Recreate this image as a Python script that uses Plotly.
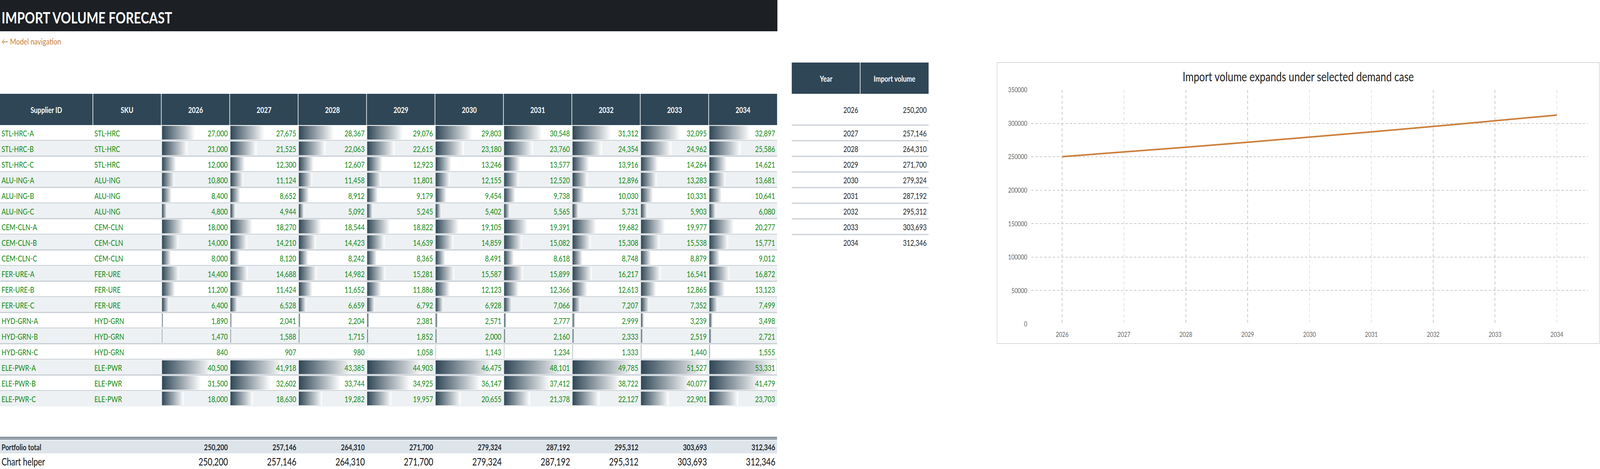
import plotly.graph_objects as go

W, H = 5238, 1200

# ---------------- data ----------------
years = ['2026', '2027', '2028', '2029', '2030', '2031', '2032', '2033', '2034']
supplier_ids = ['STL-HRC-A', 'STL-HRC-B', 'STL-HRC-C', 'ALU-ING-A', 'ALU-ING-B', 'ALU-ING-C',
                'CEM-CLN-A', 'CEM-CLN-B', 'CEM-CLN-C', 'FER-URE-A', 'FER-URE-B', 'FER-URE-C',
                'HYD-GRN-A', 'HYD-GRN-B', 'HYD-GRN-C', 'ELE-PWR-A', 'ELE-PWR-B', 'ELE-PWR-C']
skus = ['STL-HRC', 'STL-HRC', 'STL-HRC', 'ALU-ING', 'ALU-ING', 'ALU-ING',
        'CEM-CLN', 'CEM-CLN', 'CEM-CLN', 'FER-URE', 'FER-URE', 'FER-URE',
        'HYD-GRN', 'HYD-GRN', 'HYD-GRN', 'ELE-PWR', 'ELE-PWR', 'ELE-PWR']
stl_hrc_a = [27000, 27675, 28367, 29076, 29803, 30548, 31312, 32095, 32897]
stl_hrc_b = [21000, 21525, 22063, 22615, 23180, 23760, 24354, 24962, 25586]
stl_hrc_c = [12000, 12300, 12607, 12923, 13246, 13577, 13916, 14264, 14621]
alu_ing_a = [10800, 11124, 11458, 11801, 12155, 12520, 12896, 13283, 13681]
alu_ing_b = [8400, 8652, 8912, 9179, 9454, 9738, 10030, 10331, 10641]
alu_ing_c = [4800, 4944, 5092, 5245, 5402, 5565, 5731, 5903, 6080]
cem_cln_a = [18000, 18270, 18544, 18822, 19105, 19391, 19682, 19977, 20277]
cem_cln_b = [14000, 14210, 14423, 14639, 14859, 15082, 15308, 15538, 15771]
cem_cln_c = [8000, 8120, 8242, 8365, 8491, 8618, 8748, 8879, 9012]
fer_ure_a = [14400, 14688, 14982, 15281, 15587, 15899, 16217, 16541, 16872]
fer_ure_b = [11200, 11424, 11652, 11886, 12123, 12366, 12613, 12865, 13123]
fer_ure_c = [6400, 6528, 6659, 6792, 6928, 7066, 7207, 7352, 7499]
hyd_grn_a = [1890, 2041, 2204, 2381, 2571, 2777, 2999, 3239, 3498]
hyd_grn_b = [1470, 1588, 1715, 1852, 2000, 2160, 2333, 2519, 2721]
hyd_grn_c = [840, 907, 980, 1058, 1143, 1234, 1333, 1440, 1555]
ele_pwr_a = [40500, 41918, 43385, 44903, 46475, 48101, 49785, 51527, 53331]
ele_pwr_b = [31500, 32602, 33744, 34925, 36147, 37412, 38722, 40077, 41479]
ele_pwr_c = [18000, 18630, 19282, 19957, 20655, 21378, 22127, 22901, 23703]
volumes = [stl_hrc_a, stl_hrc_b, stl_hrc_c, alu_ing_a, alu_ing_b, alu_ing_c,
           cem_cln_a, cem_cln_b, cem_cln_c, fer_ure_a, fer_ure_b, fer_ure_c,
           hyd_grn_a, hyd_grn_b, hyd_grn_c, ele_pwr_a, ele_pwr_b, ele_pwr_c]
portfolio_total = [250200, 257146, 264310, 271700, 279324, 287192, 295312, 303693, 312346]
chart_helper = [250200, 257146, 264310, 271700, 279324, 287192, 295312, 303693, 312346]

title_text = 'IMPORT VOLUME FORECAST'
nav_text = '← Model navigation'
chart_title = 'Import volume expands under selected demand case'
y_ticks = [0, 50000, 100000, 150000, 200000, 250000, 300000, 350000]

# ---------------- styles / geometry ----------------
FONT = 'Lato'
DARK = '#2f4656'
GREEN = '#138a13'
SEP = '#c9cfd5'
ALT = '#edf1f3'
TOT_BG = '#dde4ea'

SUP_X = (0, 304)
SKU_X = (304, 528)
YX0, YW = 528, 224
TABLE_R = YX0 + YW * len(years)
HEAD_Y = (240, 320)
ROW_Y0, ROW_H = 320, 40
TOT_Y = (1124, 1160)
HELP_Y = (1160, 1200)

vals_flat = [v for r in volumes for v in r]
vmin, vmax = min(vals_flat), max(vals_flat)

fig = go.Figure()
shapes = []
ann = []


def rect(x0, y0, x1, y1, fill, layer='below'):
    shapes.append(dict(type='rect', xref='x', yref='y', x0=x0, y0=y0, x1=x1, y1=y1,
                       fillcolor=fill, layer=layer, line=dict(width=0)))


def hline(x0, x1, y, color, width):
    shapes.append(dict(type='line', xref='x', yref='y', x0=x0, x1=x1, y0=y, y1=y,
                       line=dict(color=color, width=width), layer='below'))


def vline(x, y0, y1, color, width):
    shapes.append(dict(type='line', xref='x', yref='y', x0=x, x1=x, y0=y0, y1=y1,
                       line=dict(color=color, width=width), layer='below'))


def text(x, y, s, size, color, anchor='left', bold=False):
    ann.append(dict(xref='x', yref='y', x=x, y=y, text=s, showarrow=False,
                    xanchor=anchor, yanchor='middle',
                    font=dict(family=FONT, size=size, color=color,
                              weight='bold' if bold else 'normal')))


# title bar + nav
rect(0, 0, TABLE_R + 1, 80, '#1c1f24')
text(3, 44, title_text, 41, '#ffffff', bold=True)
text(3, 105, nav_text, 22, '#c8813f')

# main table header
rect(0, HEAD_Y[0], TABLE_R, HEAD_Y[1], DARK)
col_edges = [SUP_X[0], SKU_X[0], YX0] + [YX0 + YW * (j + 1) for j in range(len(years))]
for x in col_edges[1:-1]:
    vline(x, HEAD_Y[0], HEAD_Y[1], '#ffffff', 2)
headers = ['Supplier ID', 'SKU'] + years
for k, h in enumerate(headers):
    text((col_edges[k] + col_edges[k + 1]) / 2, (HEAD_Y[0] + HEAD_Y[1]) / 2, h, 21, '#ffffff',
         anchor='center', bold=True)

# rows
n = len(supplier_ids)
for i in range(n):
    top = ROW_Y0 + ROW_H * i
    if i % 2 == 1:
        rect(0, top, TABLE_R, top + ROW_H, ALT)
    if i < n - 1:
        hline(0, TABLE_R, top + ROW_H - 0.5, SEP, 3)
    cy = top + ROW_H / 2
    text(SUP_X[0] + 3, cy, supplier_ids[i], 21, GREEN)
    text(SKU_X[0] + 3, cy, skus[i], 21, GREEN)
    for j, v in enumerate(volumes[i]):
        text(YX0 + YW * (j + 1) - 4, cy, f'{v:,}', 21, GREEN, anchor='right')

# data bars (one x axis per year column, range = global min..max)
layout_axes = {}
for j in range(len(years)):
    axname = f'xaxis{j + 3}'
    x0p = (YX0 + YW * j + 2) / W
    x1p = (YX0 + YW * j + 220) / W
    layout_axes[axname] = dict(domain=[x0p, x1p], range=[vmin, vmax], visible=False,
                               showticklabels=False, anchor='y', fixedrange=True,
                               automargin=False)
    for i in range(n):
        v = volumes[i][j]
        if v <= vmin:
            continue
        top = ROW_Y0 + ROW_H * i + 2
        bot = ROW_Y0 + ROW_H * i + 37
        fig.add_trace(go.Scatter(
            x=[vmin, v, v, vmin, vmin], y=[top, top, bot, bot, top],
            xaxis=f'x{j + 3}', yaxis='y', mode='lines', fill='toself',
            line=dict(width=0), hoverinfo='skip', showlegend=False,
            fillgradient=dict(type='horizontal',
                              colorscale=[[0, DARK], [1, '#ffffff']])))

# totals
hline(0, TABLE_R, 1119, DARK, 2)
hline(0, TABLE_R, 1123, DARK, 2)
rect(0, TOT_Y[0] + 1, TABLE_R, TOT_Y[1], TOT_BG)
text(3, (TOT_Y[0] + TOT_Y[1]) / 2 + 1, 'Portfolio total', 21, '#1e2a33', bold=True)
text(3, (HELP_Y[0] + HELP_Y[1]) / 2 + 1, 'Chart helper', 26, '#111111')
for j in range(len(years)):
    xr = YX0 + YW * (j + 1) - 4
    text(xr, (TOT_Y[0] + TOT_Y[1]) / 2 + 1, f'{portfolio_total[j]:,}', 21, '#1e2a33',
         anchor='right', bold=True)
    text(xr, (HELP_Y[0] + HELP_Y[1]) / 2 + 1, f'{chart_helper[j]:,}', 26, '#111111',
         anchor='right')

# year / import volume table
YT_X = (2592, 2816, 3040)
rect(YT_X[0], 160, YT_X[2], 240, DARK)
vline(YT_X[1], 160, 240, '#ffffff', 2)
text((YT_X[0] + YT_X[1]) / 2, 200, 'Year', 21, '#ffffff', anchor='center', bold=True)
text((YT_X[1] + YT_X[2]) / 2, 200, 'Import volume', 21, '#ffffff', anchor='center', bold=True)
yt_bounds = [240, 320] + [320 + 40 * (k + 1) for k in range(len(years) - 1)]
for k in range(len(years)):
    cy = (yt_bounds[k] + yt_bounds[k + 1]) / 2
    if k < len(years) - 1:
        hline(YT_X[0], YT_X[2], yt_bounds[k + 1], SEP, 3)
    text(YT_X[1] - 4, cy, years[k], 21, '#262626', anchor='right')
    text(YT_X[2] - 4, cy, f'{portfolio_total[k]:,}', 21, '#262626', anchor='right')

# chart frame
shapes.append(dict(type='rect', xref='x', yref='y', x0=3264, y0=160, x1=5236, y1=879,
                   line=dict(color='#d9d9d9', width=2), fillcolor='rgba(0,0,0,0)',
                   layer='below'))

# line chart
fig.add_trace(go.Scatter(x=years, y=chart_helper, xaxis='x2', yaxis='y2', mode='lines',
                         line=dict(color='#cc7f3b', width=4), showlegend=False,
                         name='Import volume'))

grid = dict(showgrid=True, gridcolor='#cccccc', gridwidth=2, griddash='8px,6px')
fig.update_layout(
    width=W, height=H, autosize=False,
    margin=dict(l=0, r=0, t=0, b=0, pad=0, autoexpand=False),
    paper_bgcolor='#ffffff', plot_bgcolor='rgba(0,0,0,0)',
    showlegend=False,
    font=dict(family=FONT),
    xaxis=dict(domain=[0, 1], range=[0, W], visible=False, fixedrange=True, automargin=False),
    yaxis=dict(domain=[0, 1], range=[H, 0], visible=False, fixedrange=True, automargin=False),
    xaxis2=dict(domain=[3376 / W, 5198 / W], anchor='y2', type='category',
                categoryorder='array', categoryarray=years, range=[-0.5, len(years) - 0.5],
                showline=False, zeroline=False, ticks='', ticklabelstandoff=14,
                automargin=False,
                tickfont=dict(family=FONT, size=18, color='#666666'), **grid),
    yaxis2=dict(domain=[(H - 829) / H, (H - 230) / H], anchor='x2', range=[0, 350000],
                tickvals=y_ticks, tickformat='d', showline=False, ticks='',
                zeroline=True, zerolinecolor='rgba(0,0,0,0)', ticklabelstandoff=12,
                automargin=False,
                tickfont=dict(family=FONT, size=18, color='#666666'), **grid),
    title=dict(text=chart_title, x=4250 / W, xanchor='center', y=1 - 196 / H,
               yanchor='middle', automargin=False,
               font=dict(family=FONT, size=33, color='#222222')),
    shapes=shapes,
    annotations=ann,
    **layout_axes,
)

# fit the 5238x1200 page into whatever viewport the browser actually provides
fit_js = """
(function(){
  var gd = document.getElementById('{plot_id}');
  document.documentElement.style.margin = '0';
  document.documentElement.style.padding = '0';
  document.documentElement.style.overflow = 'hidden';
  document.body.style.margin = '0';
  document.body.style.padding = '0';
  document.body.style.overflow = 'hidden';
  var sx = window.innerWidth / 5238, sy = window.innerHeight / 1200;
  gd.style.position = 'absolute';
  gd.style.left = '0px';
  gd.style.top = '0px';
  gd.style.margin = '0px';
  gd.style.transformOrigin = '0 0';
  gd.style.transform = 'scale(' + sx + ',' + sy + ')';
})();
"""

fig.write_html('out.html', include_plotlyjs=True, full_html=True,
               config={'displayModeBar': False}, post_script=fit_js)
